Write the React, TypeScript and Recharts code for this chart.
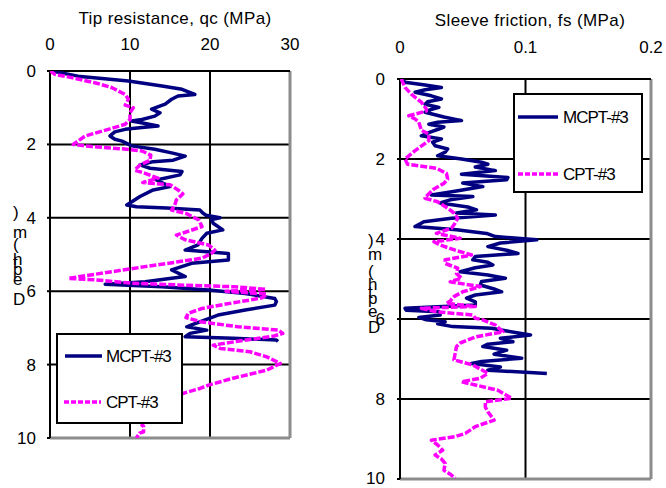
import React from 'react';
import { ScatterChart, Scatter, XAxis, YAxis, CartesianGrid, ReferenceLine, Legend } from 'recharts';

const FONT = '"Liberation Sans", Arial, sans-serif';

// axis ticks
const qcTicks = [0, 10, 20, 30];
const fsTicks = [0, 0.1, 0.2];
const depthTicks = [0, 2, 4, 6, 8, 10];
const seriesNames = ['MCPT-#3', 'CPT-#3'];
const seriesColors = ['#000080', '#FF00FF'];
const depthLabelChars = [')', 'm', '(', 'h', 't', 'p', 'e', 'D'];

// [depth (m), qc (MPa)]
const mcptQc: [number, number][] = [
  [0, 0.2], [0.14, 3.5], [0.27, 9.8], [0.41, 14], [0.5, 16.5], [0.64, 18.1], [0.68, 16], [0.77, 15.2],
  [0.9, 14.4], [1.04, 12.7], [1.14, 13.75], [1.23, 13.1], [1.32, 11.5], [1.36, 10.2], [1.43, 11.9],
  [1.5, 13.5], [1.54, 11.5], [1.59, 9.4], [1.66, 8.1], [1.77, 7.5], [1.86, 8.1], [1.91, 9], [2.04, 10.2],
  [2.13, 13.1], [2.23, 15.2], [2.32, 16.9], [2.43, 15.4], [2.47, 12.9], [2.56, 11.25], [2.65, 12.5],
  [2.74, 16.5], [2.83, 16.25], [2.97, 13.3], [3.15, 15], [3.24, 12.9], [3.42, 11.25], [3.65, 9.6],
  [3.7, 10.8], [3.73, 14.6], [3.79, 18.75], [3.87, 19.1], [3.93, 19.5], [4.0, 21.25], [4.05, 20.2],
  [4.15, 20.4], [4.33, 21.6], [4.42, 19.6], [4.56, 19], [4.74, 18.5], [4.88, 16.9], [4.97, 22.3],
  [5.15, 22.3], [5.24, 17.7], [5.42, 15.2], [5.6, 16.9], [5.65, 15.2], [5.74, 11.9], [5.81, 6.9],
  [5.88, 14], [5.97, 19.8], [6.06, 24.4], [6.2, 28.1], [6.28, 28.3], [6.38, 28.1], [6.51, 24.4],
  [6.65, 21], [6.78, 19.4], [6.92, 17.7], [6.97, 17.1], [7.06, 19.6], [7.15, 17.5], [7.24, 16.9],
  [7.28, 22.9], [7.33, 28.3], [7.37, 28.5],
];

// [depth (m), qc (MPa)]
const cptQc: [number, number][] = [
  [0, 0], [0.09, 0.6], [0.18, 2.7], [0.32, 5.6], [0.45, 7.7], [0.64, 9.4], [0.77, 9.8], [0.93, 9.4],
  [1.0, 10.4], [1.14, 10], [1.32, 10], [1.45, 9.4], [1.59, 7.3], [1.77, 4.4], [2.0, 2.9], [2.06, 5.2],
  [2.12, 9], [2.18, 11.5], [2.29, 12.6], [2.43, 12.5], [2.56, 11.25], [2.7, 10.6], [2.79, 11.9],
  [2.92, 13.5], [3.04, 11.6], [3.1, 15], [3.24, 16], [3.35, 16.6], [3.51, 15.8], [3.65, 15.6],
  [3.79, 15.2], [3.88, 17], [4.06, 18.6], [4.24, 19], [4.38, 17.1], [4.47, 15.8], [4.6, 16.9],
  [4.74, 19.8], [4.88, 20.6], [4.97, 20.2], [5.1, 19], [5.2, 16], [5.33, 11.9], [5.47, 7.7],
  [5.65, 2.3], [5.69, 5.6], [5.78, 10.2], [5.83, 16], [5.88, 23.1], [5.95, 27], [6.0, 22], [6.08, 27.1],
  [6.18, 26.5], [6.24, 25], [6.35, 22], [6.47, 19], [6.6, 17.3], [6.72, 17], [6.83, 18.8], [6.97, 23.5],
  [7.06, 28.5], [7.15, 29.1], [7.22, 28], [7.3, 25.5], [7.38, 23], [7.47, 20.4], [7.56, 21.3],
  [7.65, 25], [7.79, 27.1], [7.97, 28.8], [8.15, 27.1], [8.37, 22.9], [8.56, 19.8], [8.65, 18.75],
  [8.78, 16.7], [9.0, 14], [9.3, 12.5], [9.55, 11.8], [9.65, 11.5], [9.69, 11.7], [9.83, 11.7],
  [9.87, 11.2], [10.0, 10.8],
];

// [depth (m), fs (MPa)]
const mcptFs: [number, number][] = [
  [0, 0.001], [0.08, 0.004], [0.15, 0.02], [0.21, 0.033], [0.27, 0.02], [0.33, 0.012], [0.42, 0.025],
  [0.5, 0.033], [0.57, 0.022], [0.63, 0.02], [0.71, 0.031], [0.77, 0.024], [0.83, 0.02], [0.95, 0.035],
  [1.04, 0.049], [1.08, 0.03], [1.13, 0.023], [1.2, 0.035], [1.25, 0.031], [1.33, 0.024], [1.42, 0.017],
  [1.5, 0.033], [1.58, 0.026], [1.67, 0.028], [1.75, 0.038], [1.83, 0.036], [1.92, 0.03], [2.0, 0.049],
  [2.08, 0.065], [2.13, 0.07], [2.2, 0.06], [2.29, 0.076], [2.38, 0.049], [2.46, 0.086], [2.52, 0.085],
  [2.6, 0.05], [2.69, 0.066], [2.8, 0.045], [2.9, 0.025], [2.94, 0.058], [3.02, 0.04], [3.1, 0.032],
  [3.2, 0.054], [3.27, 0.061], [3.35, 0.045], [3.4, 0.076], [3.48, 0.041], [3.57, 0.019], [3.69, 0.012],
  [3.77, 0.045], [3.86, 0.069], [3.94, 0.076], [4.02, 0.109], [4.1, 0.08], [4.19, 0.07], [4.28, 0.085],
  [4.36, 0.094], [4.44, 0.06], [4.52, 0.058], [4.58, 0.07], [4.65, 0.074], [4.72, 0.06], [4.82, 0.048],
  [4.9, 0.07], [4.98, 0.084], [5.06, 0.065], [5.15, 0.064], [5.25, 0.075], [5.32, 0.081], [5.4, 0.06],
  [5.48, 0.053], [5.57, 0.06], [5.65, 0.06], [5.73, 0.004], [5.78, 0.005], [5.82, 0.031], [5.9, 0.032],
  [5.96, 0.015], [6.02, 0.021], [6.07, 0.036], [6.12, 0.03], [6.19, 0.042], [6.23, 0.073], [6.3, 0.085],
  [6.4, 0.104], [6.48, 0.08], [6.57, 0.09], [6.63, 0.07], [6.69, 0.066], [6.78, 0.085], [6.88, 0.075],
  [6.98, 0.097], [7.06, 0.065], [7.11, 0.057], [7.2, 0.08], [7.28, 0.07], [7.36, 0.117],
];

// [depth (m), fs (MPa)]
const cptFs: [number, number][] = [
  [0, 0.001], [0.21, 0.004], [0.38, 0.009], [0.58, 0.017], [0.75, 0.021], [0.8, 0.021], [0.92, 0.007],
  [1.0, 0.012], [1.08, 0.015], [1.28, 0.017], [1.38, 0.023], [1.54, 0.023], [1.79, 0.012], [2.0, 0.004],
  [2.13, 0.006], [2.23, 0.029], [2.36, 0.037], [2.5, 0.038], [2.61, 0.035], [2.75, 0.027], [2.9, 0.022],
  [2.98, 0.02], [3.07, 0.03], [3.23, 0.038], [3.35, 0.043], [3.48, 0.046], [3.6, 0.044], [3.73, 0.041],
  [3.86, 0.029], [3.98, 0.048], [4.07, 0.027], [4.15, 0.032], [4.28, 0.044], [4.4, 0.057], [4.52, 0.036],
  [4.61, 0.036], [4.73, 0.046], [4.86, 0.045], [4.98, 0.049], [5.07, 0.04], [5.19, 0.064], [5.32, 0.05],
  [5.44, 0.043], [5.55, 0.04], [5.61, 0.037], [5.69, 0.06], [5.73, 0.017], [5.82, 0.029], [5.9, 0.058],
  [5.98, 0.06], [6.02, 0.066], [6.15, 0.076], [6.32, 0.082], [6.45, 0.06], [6.6, 0.048], [6.69, 0.045],
  [6.85, 0.044], [7.02, 0.043], [7.15, 0.058], [7.27, 0.065], [7.36, 0.07], [7.48, 0.064], [7.57, 0.049],
  [7.65, 0.06], [7.78, 0.078], [7.98, 0.089], [8.07, 0.068], [8.2, 0.068], [8.32, 0.07], [8.53, 0.075],
  [8.69, 0.06], [8.86, 0.052], [8.94, 0.044], [9.03, 0.025], [9.15, 0.03], [9.28, 0.034], [9.4, 0.028],
  [9.5, 0.033], [9.61, 0.036], [9.78, 0.035], [9.88, 0.04], [9.98, 0.044],
];

const toPoints = (arr: [number, number][]) => arr.map(([d, v]) => ({ x: v, y: d }));
const NoShape = () => null;

const DepthLabel = (props: any) => {
  const { lx, baselines } = props;
  return (
    <g>
      {depthLabelChars.map((c, i) => (
        <text key={i} x={lx} y={baselines[i]} fontSize={17} fontFamily={FONT} fill="#000">{c}</text>
      ))}
    </g>
  );
};

const TitleLabel = (props: any) => {
  const { tx, ty, text } = props;
  return (
    <text x={tx} y={ty} textAnchor="middle" fontSize={17} fontFamily={FONT} fill="#000" letterSpacing={0.4}>{text}</text>
  );
};

const LegendBox = (props: any) => {
  const { w, h, rows } = props;
  return (
    <div style={{ width: w, height: h, border: '2px solid #000', background: '#fff', boxSizing: 'border-box' }}>
      <svg width={w - 4} height={h - 4} style={{ display: 'block' }}>
        {rows.map((r: any, i: number) => (
          <g key={i}>
            <line x1={r.x1} x2={r.x2} y1={r.y} y2={r.y} stroke={seriesColors[i]} strokeWidth={3.5}
              strokeDasharray={i === 1 ? '5 2' : undefined} />
            <text x={r.tx} y={r.y + 6} fontSize={17} fontFamily={FONT} fill="#000" letterSpacing={-1}>
              {seriesNames[i]}
            </text>
          </g>
        ))}
      </svg>
    </div>
  );
};

interface PanelProps {
  left: number; width: number; margin: any; domain: [number, number]; ticks: number[];
  mcpt: [number, number][]; cpt: [number, number][]; title: string; titleX: number; titleY: number;
  xTickMargin: number; yTickMargin: number; labelX: number; baselines: number[];
  legend: { left: number; top: number; w: number; h: number; rows: any[] };
}

const Panel = (p: PanelProps) => (
  <div style={{ position: 'absolute', left: p.left, top: 0 }}>
    <ScatterChart width={p.width} height={488} margin={p.margin}>
      <CartesianGrid stroke="#000" strokeWidth={2} />
      <XAxis type="number" dataKey="x" orientation="top" domain={p.domain} ticks={p.ticks} height={30}
        allowDataOverflow tickSize={0} tickMargin={p.xTickMargin} axisLine={{ stroke: '#000', strokeWidth: 2 }}
        tick={{ fill: '#000', fontSize: 17, fontFamily: FONT }}
        label={<TitleLabel tx={p.titleX} ty={p.titleY} text={p.title} />} />
      <YAxis type="number" dataKey="y" domain={[0, 10]} ticks={depthTicks} reversed width={30} allowDataOverflow
        tickSize={3} tickMargin={p.yTickMargin} axisLine={{ stroke: '#000', strokeWidth: 2 }}
        tickLine={{ stroke: '#000', strokeWidth: 2 }}
        tick={{ fill: '#000', fontSize: 17, fontFamily: FONT }}
        label={<DepthLabel lx={p.labelX} baselines={p.baselines} />} />
      <ReferenceLine x={p.domain[1]} stroke="#8c8c8c" strokeWidth={3} />
      <ReferenceLine y={10} stroke="#8c8c8c" strokeWidth={3} />
      <Scatter name={seriesNames[0]} data={toPoints(p.mcpt)} fill={seriesColors[0]} shape={NoShape}
        line={{ stroke: seriesColors[0], strokeWidth: 3.5, strokeLinejoin: 'round' }} isAnimationActive={false} />
      <Scatter name={seriesNames[1]} data={toPoints(p.cpt)} fill={seriesColors[1]} shape={NoShape}
        line={{ stroke: seriesColors[1], strokeWidth: 3.5, strokeDasharray: '7 2', strokeLinejoin: 'round' }}
        isAnimationActive={false} />
      <Legend layout="vertical" align="center" verticalAlign="middle"
        wrapperStyle={{ left: p.legend.left, top: p.legend.top, width: p.legend.w, height: p.legend.h }}
        content={() => <LegendBox w={p.legend.w} h={p.legend.h} rows={p.legend.rows} />} />
    </ScatterChart>
  </div>
);

export default function App() {
  return (
    <div style={{ position: 'absolute', left: 0, top: 0, width: 666, height: 488, background: '#fff', overflow: 'hidden' }}>
      <Panel left={0} width={300} margin={{ top: 41, left: 20, right: 10, bottom: 50 }} domain={[0, 30]}
        ticks={qcTicks} mcpt={mcptQc} cpt={cptQc} title="Tip resistance, qc (MPa)" titleX={175} titleY={24}
        xTickMargin={21} yTickMargin={11} labelX={13} baselines={[218, 238, 250, 265, 268, 275, 285, 305]}
        legend={{ left: 56, top: 333, w: 127, h: 91, rows: [{ x1: 7, x2: 44, y: 21, tx: 48 }, { x1: 6, x2: 43, y: 67, tx: 48 }] }} />
      <Panel left={330} width={336} margin={{ top: 49, left: 40, right: 15, bottom: 9 }} domain={[0, 0.2]}
        ticks={fsTicks} mcpt={mcptFs} cpt={cptFs} title="Sleeve friction, fs (MPa)" titleX={200} titleY={26}
        xTickMargin={26} yTickMargin={12} labelX={38} baselines={[246, 260, 277, 290, 298, 304, 317, 333]}
        legend={{ left: 183, top: 93, w: 130, h: 100, rows: [{ x1: 3, x2: 43, y: 22, tx: 48 }, { x1: 3, x2: 43, y: 79, tx: 48 }] }} />
    </div>
  );
}
